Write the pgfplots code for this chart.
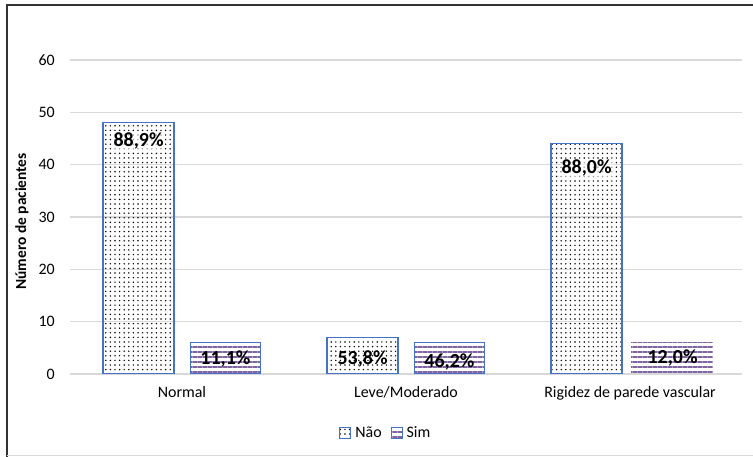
\documentclass[border=0pt]{standalone}
\usepackage{pgfplots}
\pgfplotsset{compat=1.18}
\usetikzlibrary{patterns,patterns.meta}
\usepackage{fontspec}
\setmainfont{Carlito}
\definecolor{barblue}{HTML}{4472C4}
\definecolor{simpurple}{HTML}{8064A2}
\definecolor{gridgray}{HTML}{D9D9D9}
\definecolor{framegray}{HTML}{333333}

\begin{document}
\begin{tikzpicture}
\useasboundingbox (0,0) rectangle (753bp,457bp);
\fill[white] (0,0) rectangle (753bp,457bp);
% chart frame
\draw[framegray, line width=2.5bp] (7bp,0) -- (7bp,452bp) -- (753bp,452bp);
\draw[gridgray, line width=1bp] (7bp,1.5bp) -- (753bp,1.5bp);
\begin{axis}[
  at={(70bp,83bp)}, anchor=south west,
  scale only axis, width=672bp, height=314bp,
  xmin=-0.5, xmax=2.5, ymin=0, ymax=60,
  ytick={0,10,...,60},
  xtick={0,1,2},
  xticklabels={Normal, Leve/Moderado, Rigidez de parede vascular},
  ymajorgrids, grid style={gridgray, line width=1.2bp},
  axis line style={draw=none},
  tick style={draw=none}, major tick length=0pt,
  /pgf/number format/assume math mode=true,
  ticklabel style={font=\fontsize{16}{18}\selectfont},
  yticklabel style={inner sep=0pt, xshift=-15bp},
  xticklabel style={inner sep=0pt, yshift=-12bp},
  ylabel={Número de pacientes},
  every axis y label/.style={at={(axis description cs:-0.0714,0.486)}, rotate=90, anchor=center,
    font=\bfseries\fontsize{15.5}{17}\selectfont},
  legend image code/.code={\draw[#1, line width=1bp] (0bp,-5.5bp) rectangle (11bp,5.5bp);},
  legend style={at={(0.470,-0.188)}, anchor=center, draw=none, fill=none,
    font=\fontsize{16}{18}\selectfont, inner sep=0pt,
    /tikz/every odd column/.append style={column sep=2bp},
    /tikz/every even column/.append style={column sep=7bp}},
  legend columns=2,
]
% Não
\addplot[ybar, bar width=0.317, bar shift=-0.194, draw=barblue, line width=1.2bp,
  pattern={Dots[distance=4.6bp, radius=0.8bp]}, pattern color=black]
  coordinates {(0,48) (1,7) (2,44)};
\addlegendentry{Não}
% Sim
\addplot[ybar, bar width=0.313, bar shift=0.194, draw=barblue, line width=1.2bp,
  pattern={Lines[angle=0, distance=5bp, line width=1.1bp]}, pattern color=simpurple]
  coordinates {(0,6) (1,6)};
\addlegendentry{Sim}
\addplot[ybar, forget plot, bar width=0.366, bar shift=0.1875, draw=none,
  pattern={Lines[angle=0, distance=5bp, line width=1.1bp]}, pattern color=simpurple]
  coordinates {(2,6)};
% percentage labels
\begin{scope}[every node/.style={font=\bfseries\fontsize{20}{22}\selectfont, inner sep=1bp}]
\node[fill=white, fill opacity=0.6, text opacity=1] at (axis cs:-0.194,44.6) {88,9\%};
\node at (axis cs:0.194,2.8) {11,1\%};
\node at (axis cs:0.806,2.9) {53,8\%};
\node at (axis cs:1.194,2.3) {46,2\%};
\node[fill=white, fill opacity=0.6, text opacity=1] at (axis cs:1.806,39.4) {88,0\%};
\node at (axis cs:2.19,3.1) {12,0\%};
\end{scope}
\end{axis}
\end{tikzpicture}
\end{document}
